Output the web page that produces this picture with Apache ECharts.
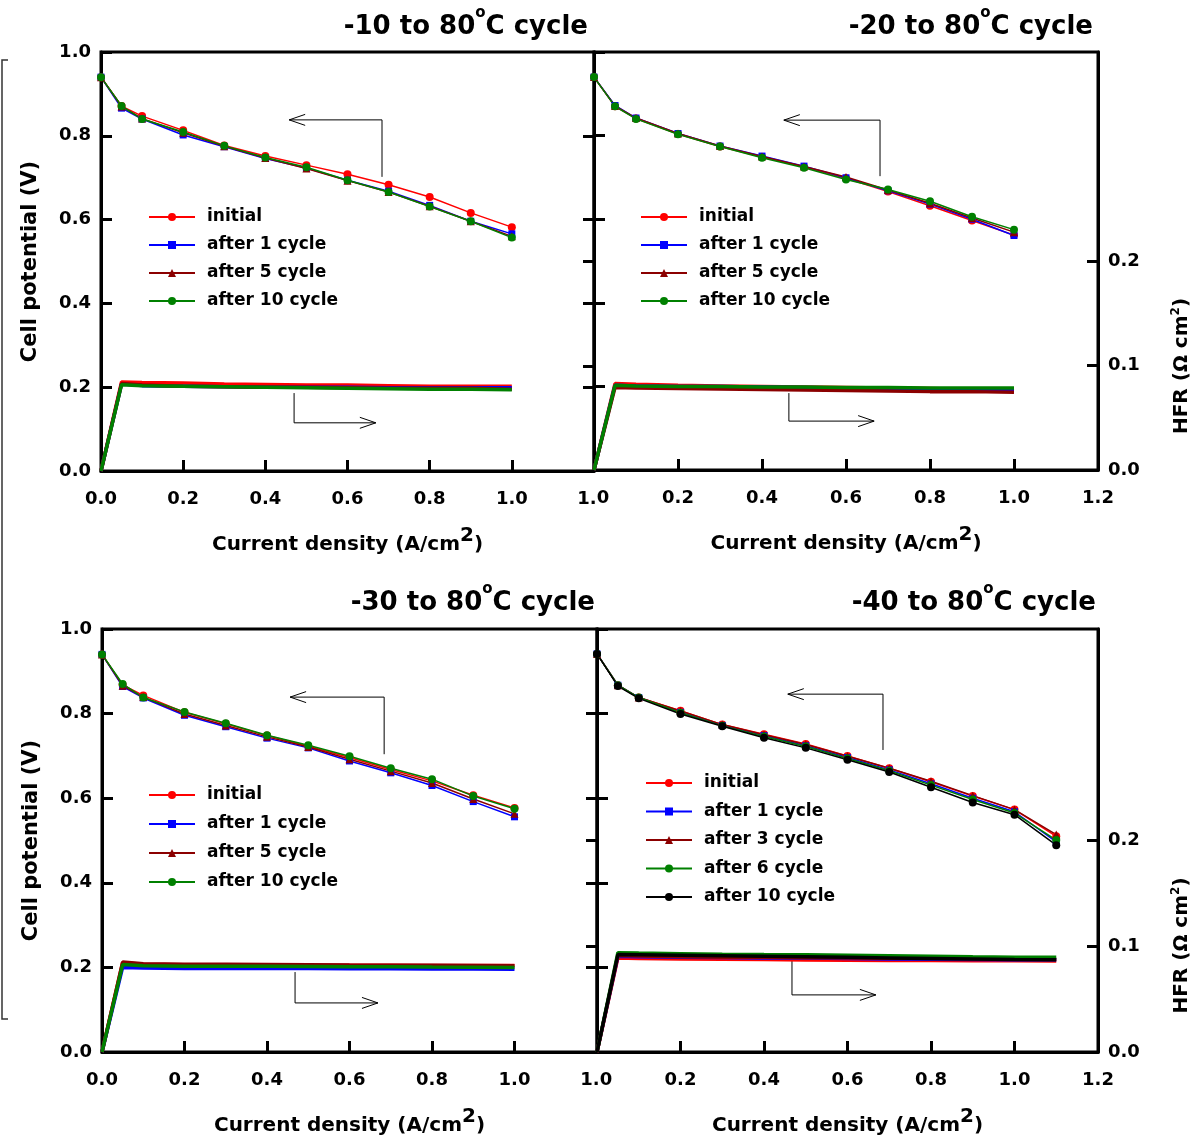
<!DOCTYPE html>
<html><head><meta charset="utf-8">
<script src="https://cdn.jsdelivr.net/npm/echarts@6/dist/echarts.min.js"></script>
<style>html,body{margin:0;padding:0;background:#fff}#c{width:1195px;height:1139px}</style>
</head><body><div id="c"></div>
<script>
const FONT = 'DejaVu Sans';
// current density (A/cm2)
const X_STD = [0, 0.05, 0.1, 0.2, 0.3, 0.4, 0.5, 0.6, 0.7, 0.8, 0.9, 1.0];
const X_40  = [0, 0.05, 0.1, 0.2, 0.3, 0.4, 0.5, 0.6, 0.7, 0.8, 0.9, 1.0, 1.1];

const NAMES_4 = ['initial', 'after 1 cycle', 'after 5 cycle', 'after 10 cycle'];
const NAMES_5 = ['initial', 'after 1 cycle', 'after 3 cycle', 'after 6 cycle', 'after 10 cycle '];
const TITLES = ['-10 to 80', '-20 to 80', '-30 to 80', '-40 to 80'];

// -10 to 80 C cycle : cell potential (V)
const M10_V_INITIAL = [0.940, 0.871, 0.847, 0.813, 0.777, 0.752, 0.730, 0.708, 0.683, 0.654, 0.616, 0.582];
const M10_V_AFTER1  = [0.940, 0.866, 0.840, 0.802, 0.774, 0.746, 0.723, 0.694, 0.668, 0.634, 0.596, 0.566];
const M10_V_AFTER5  = [0.940, 0.870, 0.841, 0.807, 0.775, 0.747, 0.722, 0.693, 0.666, 0.632, 0.596, 0.560];
const M10_V_AFTER10 = [0.940, 0.871, 0.840, 0.809, 0.776, 0.748, 0.725, 0.694, 0.666, 0.631, 0.596, 0.557];
// -10 : HFR (ohm cm2)
const M10_H_INITIAL = [0, 0.0850, 0.0845, 0.0840, 0.0830, 0.0825, 0.0820, 0.0820, 0.0815, 0.0810, 0.0810, 0.0810];
const M10_H_AFTER1  = [0, 0.0830, 0.0815, 0.0810, 0.0805, 0.0800, 0.0800, 0.0800, 0.0795, 0.0795, 0.0795, 0.0795];
const M10_H_AFTER5  = [0, 0.0835, 0.0820, 0.0810, 0.0805, 0.0800, 0.0800, 0.0795, 0.0790, 0.0790, 0.0790, 0.0780];
const M10_H_AFTER10 = [0, 0.0824, 0.0815, 0.0810, 0.0805, 0.0800, 0.0795, 0.0790, 0.0785, 0.0780, 0.0780, 0.0776];

// -20 to 80 C cycle
const M20_V_INITIAL = [0.940, 0.870, 0.841, 0.804, 0.774, 0.749, 0.725, 0.698, 0.666, 0.632, 0.597, 0.562];
const M20_V_AFTER1  = [0.940, 0.872, 0.842, 0.805, 0.775, 0.751, 0.727, 0.699, 0.668, 0.636, 0.600, 0.561];
const M20_V_AFTER5  = [0.940, 0.871, 0.842, 0.805, 0.775, 0.750, 0.726, 0.701, 0.670, 0.638, 0.603, 0.569];
const M20_V_AFTER10 = [0.940, 0.870, 0.840, 0.803, 0.774, 0.747, 0.723, 0.695, 0.671, 0.643, 0.606, 0.575];
const M20_H_INITIAL = [0, 0.0827, 0.0820, 0.0810, 0.0805, 0.0800, 0.0795, 0.0790, 0.0785, 0.0780, 0.0770, 0.0755];
const M20_H_AFTER1  = [0, 0.0810, 0.0805, 0.0800, 0.0800, 0.0795, 0.0790, 0.0785, 0.0780, 0.0775, 0.0770, 0.0765];
const M20_H_AFTER5  = [0, 0.0790, 0.0785, 0.0780, 0.0775, 0.0770, 0.0765, 0.0760, 0.0755, 0.0750, 0.0750, 0.0745];
const M20_H_AFTER10 = [0, 0.0810, 0.0805, 0.0800, 0.0800, 0.0795, 0.0795, 0.0790, 0.0790, 0.0785, 0.0785, 0.0785];

// -30 to 80 C cycle
const M30_V_INITIAL = [0.940, 0.868, 0.843, 0.803, 0.776, 0.748, 0.723, 0.696, 0.668, 0.641, 0.607, 0.577];
const M30_V_AFTER1  = [0.940, 0.864, 0.837, 0.796, 0.769, 0.742, 0.719, 0.688, 0.660, 0.630, 0.592, 0.556];
const M30_V_AFTER5  = [0.940, 0.866, 0.839, 0.799, 0.772, 0.745, 0.721, 0.692, 0.664, 0.636, 0.598, 0.563];
const M30_V_AFTER10 = [0.940, 0.870, 0.838, 0.804, 0.777, 0.749, 0.725, 0.699, 0.671, 0.645, 0.605, 0.575];
const M30_H_INITIAL = [0, 0.0844, 0.0830, 0.0825, 0.0825, 0.0822, 0.0820, 0.0820, 0.0820, 0.0818, 0.0818, 0.0817];
const M30_H_AFTER1  = [0, 0.0800, 0.0795, 0.0790, 0.0790, 0.0790, 0.0790, 0.0788, 0.0787, 0.0785, 0.0785, 0.0783];
const M30_H_AFTER5  = [0, 0.0850, 0.0835, 0.0830, 0.0830, 0.0828, 0.0825, 0.0822, 0.0820, 0.0820, 0.0818, 0.0815];
const M30_H_AFTER10 = [0, 0.0827, 0.0815, 0.0810, 0.0810, 0.0810, 0.0808, 0.0805, 0.0805, 0.0803, 0.0802, 0.0800];

// -40 to 80 C cycle
const M40_V_INITIAL = [0.941, 0.867, 0.838, 0.807, 0.774, 0.751, 0.728, 0.700, 0.671, 0.639, 0.605, 0.573, 0.510];
const M40_V_AFTER1  = [0.941, 0.867, 0.838, 0.803, 0.772, 0.748, 0.724, 0.696, 0.667, 0.634, 0.600, 0.568, 0.497];
const M40_V_AFTER3  = [0.941, 0.867, 0.838, 0.806, 0.774, 0.750, 0.727, 0.699, 0.671, 0.640, 0.606, 0.573, 0.514];
const M40_V_AFTER6  = [0.941, 0.867, 0.838, 0.802, 0.771, 0.746, 0.722, 0.694, 0.665, 0.631, 0.597, 0.565, 0.501];
const M40_V_AFTER10 = [0.941, 0.865, 0.836, 0.799, 0.770, 0.743, 0.719, 0.691, 0.662, 0.626, 0.590, 0.561, 0.489];
const M40_H_INITIAL = [0, 0.0889, 0.0885, 0.0880, 0.0878, 0.0875, 0.0870, 0.0868, 0.0866, 0.0865, 0.0863, 0.0862, 0.0861];
const M40_H_AFTER1  = [0, 0.0905, 0.0900, 0.0895, 0.0893, 0.0890, 0.0888, 0.0885, 0.0880, 0.0877, 0.0875, 0.0873, 0.0872];
const M40_H_AFTER3  = [0, 0.0912, 0.0907, 0.0900, 0.0897, 0.0895, 0.0892, 0.0890, 0.0887, 0.0884, 0.0882, 0.0880, 0.0878];
const M40_H_AFTER6  = [0, 0.0939, 0.0935, 0.0930, 0.0925, 0.0922, 0.0920, 0.0915, 0.0910, 0.0905, 0.0900, 0.0897, 0.0895];
const M40_H_AFTER10 = [0, 0.0922, 0.0920, 0.0915, 0.0910, 0.0905, 0.0900, 0.0895, 0.0890, 0.0885, 0.0880, 0.0875, 0.0872];

// annotation arrows (data units: x = current density, y = cell potential axis)
const ARROW_LEFT_P0  = [[0.684, 0.702], [0.684, 0.838], [0.458, 0.838]];
const ARROW_RIGHT_P0 = [[0.470, 0.186], [0.470, 0.115], [0.669, 0.115]];
const ARROW_LEFT_P1  = [[0.681, 0.703], [0.681, 0.837], [0.452, 0.837]];
const ARROW_RIGHT_P1 = [[0.464, 0.184], [0.464, 0.117], [0.667, 0.117]];
const ARROW_LEFT_P2  = [[0.684, 0.704], [0.684, 0.839], [0.456, 0.839]];
const ARROW_RIGHT_P2 = [[0.468, 0.189], [0.468, 0.116], [0.669, 0.116]];
const ARROW_LEFT_P3  = [[0.685, 0.714], [0.685, 0.846], [0.457, 0.846]];
const ARROW_RIGHT_P3 = [[0.467, 0.232], [0.467, 0.135], [0.668, 0.135]];

// ---------- styles ----------
const COL4 = ['#ff0000', '#0000ff', '#8b0000', '#008000'];
const COL5 = ['#ff0000', '#0000ff', '#8b0000', '#008000', '#000000'];
const SYM4 = ['circle', 'rect', 'triangle', 'circle'];
const SYM5 = ['circle', 'rect', 'triangle', 'circle', 'circle'];

const PANELS = [
  { side: 'left', grid: {left: 101, top: 52, width: 493, height: 419}, x: X_STD,
    v: [M10_V_INITIAL, M10_V_AFTER1, M10_V_AFTER5, M10_V_AFTER10],
    h: [M10_H_INITIAL, M10_H_AFTER1, M10_H_AFTER5, M10_H_AFTER10],
    names: NAMES_4, colors: COL4, symbols: SYM4, title: TITLES[0], titlePos: {right: 607, top: -1},
    legend: {left: 148, top: 207, itemGap: 8}, arrows: [ARROW_LEFT_P0, ARROW_RIGHT_P0] },
  { side: 'right', grid: {left: 594, top: 52, width: 504, height: 418}, x: X_STD,
    v: [M20_V_INITIAL, M20_V_AFTER1, M20_V_AFTER5, M20_V_AFTER10],
    h: [M20_H_INITIAL, M20_H_AFTER1, M20_H_AFTER5, M20_H_AFTER10],
    names: NAMES_4, colors: COL4, symbols: SYM4, title: TITLES[1], titlePos: {right: 102, top: -1},
    legend: {left: 640, top: 207, itemGap: 8}, arrows: [ARROW_LEFT_P1, ARROW_RIGHT_P1] },
  { side: 'left', grid: {left: 102, top: 629, width: 495, height: 423}, x: X_STD,
    v: [M30_V_INITIAL, M30_V_AFTER1, M30_V_AFTER5, M30_V_AFTER10],
    h: [M30_H_INITIAL, M30_H_AFTER1, M30_H_AFTER5, M30_H_AFTER10],
    names: NAMES_4, colors: COL4, symbols: SYM4, title: TITLES[2], titlePos: {right: 600, top: 575},
    legend: {left: 148, top: 785, itemGap: 9}, arrows: [ARROW_LEFT_P2, ARROW_RIGHT_P2] },
  { side: 'right', grid: {left: 597, top: 629, width: 501, height: 423}, x: X_40,
    v: [M40_V_INITIAL, M40_V_AFTER1, M40_V_AFTER3, M40_V_AFTER6, M40_V_AFTER10],
    h: [M40_H_INITIAL, M40_H_AFTER1, M40_H_AFTER3, M40_H_AFTER6, M40_H_AFTER10],
    names: NAMES_5, colors: COL5, symbols: SYM5, title: TITLES[3], titlePos: {right: 99, top: 575},
    legend: {left: 645, top: 773, itemGap: 8.5}, arrows: [ARROW_LEFT_P3, ARROW_RIGHT_P3] }
];

const fmt1 = v => (Math.round(v * 10) / 10).toFixed(1);
const TXT = {fontFamily: FONT, fontWeight: 'bold', color: '#000'};
const LABEL = Object.assign({}, TXT, {fontSize: 18});
const tick = extra => Object.assign({show: true, inside: true, length: 11, lineStyle: {color: '#000', width: 3}}, extra || {});
const AXLINE = {show: true, lineStyle: {color: '#000', width: 3}};

const grids = [], xAxes = [], yAxes = [], series = [], legends = [], titles = [];
const axisRefs = [];

PANELS.forEach((p, i) => {
  const isLeft = p.side === 'left';
  grids.push(Object.assign({show: true, borderColor: '#000', borderWidth: 3, backgroundColor: 'transparent'}, p.grid));
  xAxes.push({
    type: 'value', gridIndex: i, min: 0, max: 1.2, interval: 0.2,
    axisLine: AXLINE, axisTick: tick(), splitLine: {show: false},
    axisLabel: Object.assign({}, LABEL, {
      margin: 19,
      formatter: v => {
        if (isLeft && Math.abs(v - 1.2) < 1e-6) return '{a|1.}';
        if (!isLeft && Math.abs(v) < 1e-6) return '{b|0}';
        return fmt1(v);
      },
      rich: {a: Object.assign({}, LABEL, {padding: [0, 14, 0, 0]}), b: Object.assign({}, LABEL, {padding: [0, 0, 0, 18]})}
    }),
    name: '{t|Current density (A/cm}{s|2}{t|)}', nameLocation: 'middle', nameGap: 48,
    nameTextStyle: {rich: {
      t: Object.assign({}, TXT, {fontSize: 20, lineHeight: 36, verticalAlign: 'bottom'}),
      s: Object.assign({}, TXT, {fontSize: 20, lineHeight: 20, verticalAlign: 'top', padding: [7, 0, 0, 0]})
    }}
  });
  const vIdx = yAxes.length;
  yAxes.push({
    type: 'value', gridIndex: i, position: 'left', min: 0, max: 1.0, interval: 0.2,
    axisLine: AXLINE, axisTick: tick(), splitLine: {show: false},
    axisLabel: Object.assign({}, LABEL, {show: isLeft, margin: 10, formatter: fmt1}),
    name: isLeft ? 'Cell potential (V)' : '', nameLocation: 'middle', nameGap: 60, nameRotate: 90,
    nameTextStyle: Object.assign({}, TXT, {fontSize: 21})
  });
  const hIdx = yAxes.length;
  yAxes.push({
    type: 'value', gridIndex: i, position: 'right', min: 0, max: 0.4, interval: 0.1,
    axisLine: {show: !isLeft, lineStyle: {color: '#000', width: 3}},
    axisTick: tick({customValues: isLeft ? [0.08, 0.1, 0.16, 0.2, 0.24, 0.32] : [0.1, 0.2]}),
    splitLine: {show: false},
    axisLabel: Object.assign({}, LABEL, {show: !isLeft, margin: 10, customValues: [0, 0.1, 0.2],
      formatter: v => (v > 0.2001 ? '' : fmt1(v))}),
    name: isLeft ? '' : '{t|HFR (Ω cm}{s|2}{t|)}', nameLocation: 'middle', nameGap: 72, nameRotate: 90,
    nameTextStyle: {padding: [0, 210, 0, 0], rich: {
      t: Object.assign({}, TXT, {fontSize: 20, lineHeight: 22, verticalAlign: 'bottom'}),
      s: Object.assign({}, TXT, {fontSize: 12, lineHeight: 12, verticalAlign: 'top'})
    }}
  });
  axisRefs.push({x: i, v: vIdx});

  // HFR curves (right axis)
  p.h.forEach((arr, k) => {
    series.push({
      type: 'line', name: 'HFR ' + p.names[k], xAxisIndex: i, yAxisIndex: hIdx,
      data: p.x.map((xv, j) => [xv, arr[j]]), showSymbol: false, symbol: 'none',
      lineStyle: {color: p.colors[k], width: 3.5}, itemStyle: {color: p.colors[k]},
      silent: true, z: 2
    });
  });
  // polarization curves (left axis)
  p.v.forEach((arr, k) => {
    series.push({
      type: 'line', name: p.names[k], xAxisIndex: i, yAxisIndex: vIdx,
      data: p.x.map((xv, j) => [xv, arr[j]]),
      symbol: p.symbols[k], symbolSize: p.symbols[k] === 'rect' ? 7 : 8,
      lineStyle: {color: p.colors[k], width: 1.5}, itemStyle: {color: p.colors[k]},
      silent: true, z: 3
    });
  });

  legends.push(Object.assign({
    orient: 'vertical', data: p.names, itemWidth: 46, itemHeight: 10, padding: 0,
    selectedMode: false,
    textStyle: Object.assign({}, TXT, {fontSize: 17, lineHeight: 20, padding: [0, 0, 0, 7]})
  }, p.legend));

  titles.push(Object.assign({
    text: '{t|' + p.title + '}{s|o}{t|C cycle}', padding: 0,
    textStyle: {rich: {
      t: Object.assign({}, TXT, {fontSize: 26, lineHeight: 41, verticalAlign: 'bottom'}),
      s: Object.assign({}, TXT, {fontSize: 15, lineHeight: 15, verticalAlign: 'top', padding: [7, 0, 0, 0]})
    }}
  }, p.titlePos));
});

const chart = echarts.init(document.getElementById('c'));
chart.setOption({
  animation: false,
  backgroundColor: '#fff',
  title: titles, legend: legends, grid: grids,
  xAxis: xAxes, yAxis: yAxes, series: series
});

// annotation arrows and page frame line
const graphics = [{
  type: 'polyline', shape: {points: [[8, 60], [2, 60], [2, 1019], [8, 1019]]},
  style: {stroke: '#333', lineWidth: 1.5, fill: null}, silent: true
}];
PANELS.forEach((p, i) => {
  const ref = {xAxisIndex: axisRefs[i].x, yAxisIndex: axisRefs[i].v};
  p.arrows.forEach(arr => {
    const pts = arr.map(d => chart.convertToPixel(ref, d));
    graphics.push({type: 'polyline', shape: {points: pts}, style: {stroke: '#000', lineWidth: 1, fill: null}, silent: true});
    const tip = pts[pts.length - 1];
    const dir = Math.sign(tip[0] - pts[pts.length - 2][0]);
    graphics.push({type: 'polyline',
      shape: {points: [[tip[0] - dir * 16, tip[1] - 5.5], tip, [tip[0] - dir * 16, tip[1] + 5.5]]},
      style: {stroke: '#000', lineWidth: 1, fill: null}, silent: true});
  });
});
chart.setOption({graphic: graphics});
</script>
</body></html>
